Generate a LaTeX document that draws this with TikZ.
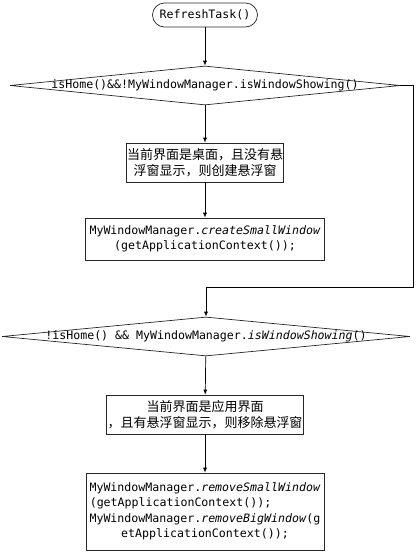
\documentclass[tikz,border=0pt]{standalone}
\usepackage{fontspec}
\usepackage{tikz}
\usetikzlibrary{shapes.geometric,arrows.meta}

\newfontfamily\codefont{DejaVu Sans Mono}
\newfontfamily\cjk{Noto Sans CJK SC}

\tikzset{
  flow/.style={draw=black!85, line width=0.7pt},
  terminal/.style={flow, rectangle, rounded corners=12pt, minimum width=105pt, minimum height=24pt,
    inner sep=0pt, font=\codefont\fontsize{11.6}{15.5}\selectfont},
  cond/.style={flow, diamond, inner sep=0pt, minimum width=#1, minimum height=39pt},
  process/.style={flow, rectangle, inner sep=0pt, align=center},
  code/.style={font=\codefont\fontsize{11.6}{15.5}\selectfont},
  note/.style={font=\cjk\fontsize{13}{16}\selectfont},
  arrow/.style={line width=0.7pt, -{Latex[length=5pt,width=4pt]}},
}

\begin{document}
\begin{tikzpicture}[x=1pt,y=-1pt]
  \useasboundingbox (0,0) rectangle (420,552);

  \node[terminal] (start) at (205,15) {RefreshTask()};

  \node[cond=390pt, label={[code]center:isHome()\&\&!MyWindowManager.isWindowShowing()}] (home) at (205,85.5) {};

  \node[process, note, minimum width=157pt, minimum height=39pt] (create) at (205,162.5)
    {当前界面是桌面，且没有悬\\浮窗显示，则创建悬浮窗};
  \node[process, code, minimum width=239pt, minimum height=42pt] (small) at (205,239)
    {MyWindowManager.\textit{createSmallWindow}\\(getApplicationContext());};

  \node[cond=408pt, label={[code]center:!isHome() \&\& MyWindowManager.\textit{isWindowShowing}()}] (app) at (206,336.5) {};

  \node[process, note, minimum width=197pt, minimum height=39pt] (remove) at (205,414.5)
    {当前界面是应用界面\\，且有悬浮窗显示，则移除悬浮窗};
  \node[process, code, minimum width=238pt, minimum height=77pt] (big) at (205,511.5)
    {MyWindowManager.\textit{removeSmallWindow}\\(getApplicationContext());\phantom{xxxxxxx}\\
     MyWindowManager.\textit{removeBigWindow}(g\\etApplicationContext());};

  \coordinate (skip) at (413,287);

  \draw[arrow] (start) -- (home);
  \draw[arrow] (home) -- (create);
  \draw[arrow] (create) -- (small);
  \draw[arrow] (home.east) -| (skip) -| (app.north);
  \draw[arrow] (app) -- (remove);
  \draw[arrow] (remove) -- (big);
\end{tikzpicture}
\end{document}
